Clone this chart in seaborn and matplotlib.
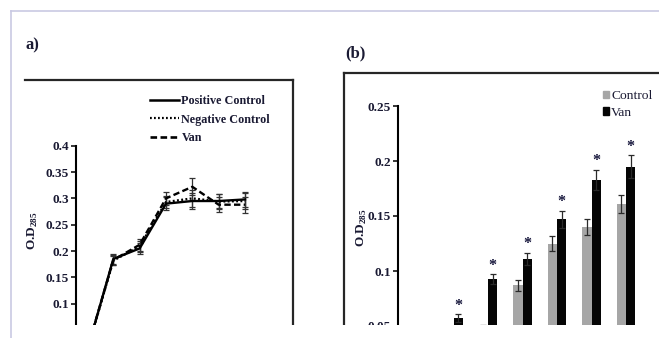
import numpy as np
import pandas as pd
import matplotlib
matplotlib.use("Agg")
import matplotlib.pyplot as plt
import seaborn as sns
from matplotlib.lines import Line2D
from matplotlib.patches import Rectangle
from matplotlib.container import BarContainer
from matplotlib.ticker import FuncFormatter

# ---------------- data: panel a ----------------
time_points = [0, 1, 2, 3, 4, 5, 6]
positive_control = [0.010, 0.185, 0.205, 0.290, 0.295, 0.295, 0.298]
negative_control = [0.010, 0.182, 0.209, 0.293, 0.300, 0.294, 0.295]
van_a = [0.012, 0.183, 0.212, 0.300, 0.322, 0.288, 0.288]
err_a = [0.003, 0.009, 0.011, 0.012, 0.016, 0.014, 0.015]
series_a = ["Positive Control", "Negative Control", "Van"]

# ---------------- data: panel b ----------------
groups_b = ["1", "2", "3", "4", "5", "6", "7"]
control_b = [0.020, 0.035, 0.048, 0.087, 0.125, 0.140, 0.161]
van_b = [0.025, 0.057, 0.0925, 0.111, 0.147, 0.183, 0.195]
control_err = [0.002, 0.002, 0.003, 0.005, 0.007, 0.0076, 0.0085]
van_err = [0.002, 0.0036, 0.0045, 0.0057, 0.0075, 0.009, 0.010]
significant = [False, True, True, True, True, True, True]
conditions_b = ["Control", "Van"]

W, H = 659, 338
def fx(px): return px / W
def fy(py): return 1 - py / H

plt.rcParams["font.family"] = ["Liberation Serif", "DejaVu Serif"]
plt.rcParams["mathtext.fontset"] = "custom"
plt.rcParams["mathtext.bf"] = "Liberation Serif:bold"
plt.rcParams["mathtext.rm"] = "Liberation Serif:bold"
TXT = "#1a1a33"

fig = plt.figure(figsize=(W / 100, H / 100), dpi=100)

# ---------------- panel a ----------------
axa = fig.add_axes([fx(76), fy(356.4), fx(280) - fx(76), fy(145.7) - fy(356.4)])
df_a = pd.DataFrame({
    "time": time_points * 3,
    "od": positive_control + negative_control + van_a,
    "series": sum([[s] * len(time_points) for s in series_a], []),
})
dash_map = {"Positive Control": "", "Negative Control": (0.8, 1.0), "Van": (2.7, 1.4)}
sns.lineplot(data=df_a, x="time", y="od", hue="series", style="series",
             hue_order=["Negative Control", "Van", "Positive Control"],
             style_order=["Negative Control", "Van", "Positive Control"],
             palette=["black"] * 3, dashes=dash_map, linewidth=1.7,
             legend=False, ax=axa, zorder=3)
for vals in (positive_control, negative_control, van_a):
    axa.errorbar(time_points, vals, yerr=err_a, fmt="none", ecolor="#333333",
                 elinewidth=0.9, capsize=2.3, capthick=0.9, zorder=2)
axa.set_xlim(-0.418, -0.418 + (280 - 76) / 26.33)
axa.set_ylim(0, 0.4)
axa.set_yticks(np.arange(0, 0.401, 0.05))
axa.yaxis.set_major_formatter(FuncFormatter(lambda v, p: f"{v:g}"))
axa.set_xticks([])
axa.set_xlabel("")
axa.set_ylabel("")
for s in ("top", "right", "bottom"):
    axa.spines[s].set_visible(False)
axa.spines["left"].set_linewidth(1.5)
axa.tick_params(axis="y", direction="out", length=3.6, width=1.1, pad=1.5,
                labelsize=9.5, labelcolor=TXT)
for lab in axa.get_yticklabels():
    lab.set_fontweight("bold")
axa.patch.set_visible(False)

handles_a = [Line2D([], [], color="black", lw=1.8, linestyle="-"),
             Line2D([], [], color="black", lw=1.6, linestyle=(0, (0.8, 1.0))),
             Line2D([], [], color="black", lw=1.9, linestyle=(0, (2.5, 1.3)))]
fig.legend(handles_a, series_a, loc="upper left",
           bbox_to_anchor=(fx(150), fy(95)), bbox_transform=fig.transFigure,
           frameon=False, borderpad=0, borderaxespad=0, handlelength=2.4,
           handletextpad=0.2, labelspacing=0.55,
           prop={"family": "Liberation Serif", "weight": "bold", "size": 8.7},
           labelcolor=TXT)

fig.text(fx(25), fy(45), "a)", fontsize=12, fontweight="bold", color=TXT,
         ha="left", va="center")
fig.text(fx(33), fy(231), r"O.D$_{\mathbf{285}}$", fontsize=9.5, fontweight="bold",
         color=TXT, rotation=90, ha="center", va="center")

# ---------------- panel b ----------------
axb = fig.add_axes([fx(398), fy(381), fx(700) - fx(398), fy(106) - fy(381)])
df_b = pd.DataFrame({
    "group": groups_b * 2,
    "value": control_b + van_b,
    "condition": ["Control"] * len(groups_b) + ["Van"] * len(groups_b),
})
sns.barplot(data=df_b, x="group", y="value", hue="condition", hue_order=conditions_b,
            palette={"Control": "#a6a6a6", "Van": "#050505"}, width=0.55,
            errorbar=None, saturation=1, linewidth=0, legend=False, ax=axb)
bar_conts = [c for c in axb.containers if isinstance(c, BarContainer)]
err_lists = [control_err, van_err]
for ci, cont in enumerate(bar_conts):
    for bi, bar in enumerate(cont.patches):
        xc = bar.get_x() + bar.get_width() / 2
        top = bar.get_height()
        axb.errorbar(xc, top, yerr=err_lists[ci][bi], fmt="none", ecolor="#2a2a2a",
                     elinewidth=0.9, capsize=2.5, capthick=0.9, zorder=4)
        if ci == 1 and significant[bi]:
            axb.annotate("*", xy=(xc, top + err_lists[ci][bi]), xytext=(0, 0.5),
                         textcoords="offset points", ha="center", va="bottom",
                         fontsize=11.5, fontweight="bold", color="#14143a")
axb.set_xlim(-0.609, -0.609 + (700 - 398) / 34.5)
axb.set_ylim(0, 0.25)
axb.set_yticks(np.arange(0, 0.251, 0.05))
axb.yaxis.set_major_formatter(FuncFormatter(lambda v, p: f"{v:g}"))
axb.set_xticks([])
axb.set_xlabel("")
axb.set_ylabel("")
for s in ("top", "right", "bottom"):
    axb.spines[s].set_visible(False)
axb.spines["left"].set_linewidth(1.5)
axb.tick_params(axis="y", direction="out", length=3.6, width=1.1, pad=1.5,
                labelsize=9.5, labelcolor=TXT)
for lab in axb.get_yticklabels():
    lab.set_fontweight("bold")
axb.patch.set_visible(False)

handles_b = [Rectangle((0, 0), 1, 1, color="#a6a6a6"), Rectangle((0, 0), 1, 1, color="#050505")]
fig.legend(handles_b, conditions_b, loc="upper left",
           bbox_to_anchor=(fx(603), fy(90)), bbox_transform=fig.transFigure,
           frameon=False, borderpad=0, borderaxespad=0, handlelength=0.45,
           handleheight=0.45, handletextpad=0.15, labelspacing=0.35,
           prop={"family": "Liberation Serif", "size": 9.7}, labelcolor=TXT)

fig.text(fx(345), fy(53), "(b)", fontsize=12, fontweight="bold", color=TXT,
         ha="left", va="center")
fig.text(fx(362), fy(228), r"O.D$_{\mathbf{285}}$", fontsize=9.5, fontweight="bold",
         color=TXT, rotation=90, ha="center", va="center")

# ---------------- panel frames ----------------
frame_kw = dict(color="#262626", lw=1.6, transform=fig.transFigure, zorder=5)
fig.add_artist(Line2D([fx(25), fx(293)], [fy(80), fy(80)], **frame_kw))
fig.add_artist(Line2D([fx(293), fx(293)], [fy(80), fy(338)], **frame_kw))
fig.add_artist(Line2D([fx(344), fx(659)], [fy(73), fy(73)], **frame_kw))
fig.add_artist(Line2D([fx(344), fx(344)], [fy(73), fy(338)], **frame_kw))

# white strip at the bottom and page border
fig.add_artist(Rectangle((0, 0), 1, 13 / H, transform=fig.transFigure,
                         facecolor="white", edgecolor="none", zorder=10))
border_kw = dict(color="#c9c9e3", lw=1.2, transform=fig.transFigure, zorder=11)
fig.add_artist(Line2D([fx(11), 1], [fy(11), fy(11)], **border_kw))
fig.add_artist(Line2D([fx(11), fx(11)], [fy(11), 0], **border_kw))

fig.savefig("out.png", dpi=100)
